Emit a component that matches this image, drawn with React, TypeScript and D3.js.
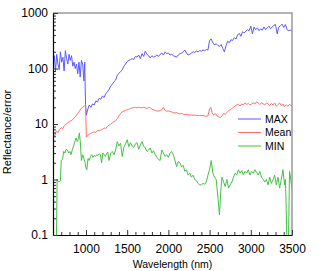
import { useRef, useEffect } from 'react';
import * as d3 from 'd3';

type Pt = [number, number];

// [wavelength nm, value]
const MAX: Pt[] = [
  [600, 110], [615, 170], [630, 90], [645, 180], [660, 120], [675, 95], [690, 200], [705, 130],
  [720, 160], [735, 90], [750, 210], [765, 150], [780, 120], [795, 180], [810, 140], [825, 170],
  [840, 110], [855, 130], [870, 100], [885, 120], [900, 80], [915, 130], [930, 70], [945, 140],
  [960, 120], [975, 60], [985, 130], [995, 22], [1005, 14.5], [1020, 18], [1040, 22], [1060, 20],
  [1080, 23], [1100, 22], [1120, 26], [1140, 25], [1160, 29], [1180, 28], [1200, 32], [1220, 30],
  [1240, 35], [1260, 38], [1280, 42], [1300, 48], [1320, 52], [1340, 58], [1360, 62], [1380, 75],
  [1400, 82], [1420, 88], [1440, 95], [1460, 110], [1480, 120], [1500, 133], [1520, 140], [1540, 145],
  [1560, 150], [1580, 145], [1600, 165], [1620, 160], [1640, 175], [1660, 150], [1680, 185], [1700, 165],
  [1720, 205], [1740, 180], [1760, 170], [1780, 155], [1800, 170], [1820, 160], [1840, 165], [1860, 175],
  [1880, 165], [1900, 180], [1920, 190], [1940, 175], [1960, 200], [1980, 185], [2000, 190], [2020, 175],
  [2040, 180], [2060, 170], [2080, 165], [2100, 160], [2120, 175], [2140, 185], [2160, 190], [2180, 200],
  [2200, 215], [2220, 190], [2240, 175], [2260, 180], [2280, 190], [2300, 200], [2320, 195], [2340, 205],
  [2360, 200], [2380, 210], [2400, 205], [2420, 215], [2440, 210], [2460, 220], [2480, 215], [2500, 320],
  [2520, 340], [2540, 290], [2560, 265], [2580, 280], [2600, 260], [2620, 250], [2640, 270], [2660, 230],
  [2680, 200], [2700, 260], [2720, 310], [2740, 290], [2760, 330], [2780, 320], [2800, 360], [2820, 340],
  [2840, 400], [2860, 430], [2880, 380], [2900, 460], [2920, 440], [2940, 470], [2960, 500], [2980, 480],
  [3000, 580], [3020, 420], [3040, 560], [3060, 500], [3080, 540], [3100, 480], [3120, 520], [3140, 490],
  [3160, 560], [3180, 500], [3200, 540], [3220, 580], [3240, 520], [3260, 560], [3280, 600], [3300, 620],
  [3320, 420], [3340, 560], [3360, 590], [3380, 630], [3400, 550], [3420, 620], [3440, 500], [3460, 480],
  [3480, 490], [3500, 470],
];

const MEAN: Pt[] = [
  [600, 6.5], [620, 6.0], [640, 7.5], [660, 7.0], [680, 8.0], [700, 8.5], [720, 8.3], [740, 9.5],
  [760, 10], [780, 10.5], [800, 11], [820, 11.5], [840, 12], [860, 13], [880, 14], [900, 15.5],
  [920, 17], [940, 19], [960, 20], [980, 21], [995, 22], [1005, 5.8], [1020, 6.2], [1040, 6.5],
  [1060, 6.8], [1080, 7.0], [1100, 7.2], [1120, 7.0], [1140, 7.6], [1160, 7.5], [1180, 7.8], [1200, 8.0],
  [1220, 8.5], [1240, 8.3], [1260, 9.0], [1280, 9.5], [1300, 10], [1320, 10.5], [1340, 11], [1360, 11.5],
  [1380, 12.5], [1400, 14], [1420, 15.5], [1440, 16.5], [1460, 17], [1480, 17.5], [1500, 18], [1520, 18.5],
  [1540, 19], [1560, 19.5], [1580, 19.8], [1600, 20], [1620, 19.5], [1640, 20], [1660, 19.8], [1680, 19.5],
  [1700, 20], [1720, 19.5], [1740, 19], [1760, 20], [1780, 19.5], [1800, 18.5], [1820, 18], [1840, 17.5],
  [1860, 17.2], [1880, 17], [1900, 17.5], [1920, 18], [1940, 20], [1960, 17.5], [1980, 17], [2000, 17.2],
  [2020, 16.8], [2040, 16.5], [2060, 16], [2080, 15.8], [2100, 16], [2120, 15.5], [2140, 15.2], [2160, 15.5],
  [2180, 15], [2200, 14.8], [2220, 15], [2240, 14.6], [2260, 14.5], [2280, 14.6], [2300, 14.3], [2320, 14.5],
  [2340, 14.2], [2360, 14.3], [2380, 14.1], [2400, 14.3], [2420, 14.2], [2440, 14.0], [2460, 13.8], [2480, 14],
  [2500, 19], [2515, 20], [2530, 16], [2550, 14.5], [2570, 15.5], [2590, 14], [2610, 13.5], [2630, 13],
  [2650, 14], [2670, 15.5], [2690, 15], [2710, 16], [2730, 17.5], [2750, 18], [2770, 19], [2790, 20],
  [2810, 21], [2830, 22], [2850, 22.5], [2870, 21], [2890, 23], [2910, 22], [2930, 24], [2950, 22.5],
  [2970, 23.5], [2990, 22], [3010, 23], [3030, 24], [3050, 23], [3070, 25], [3090, 24], [3110, 22.5],
  [3130, 24], [3150, 23], [3170, 22], [3190, 24], [3210, 23], [3230, 21.5], [3250, 23.5], [3270, 22],
  [3290, 24], [3310, 21], [3330, 22.5], [3350, 24], [3370, 21.5], [3390, 23], [3410, 20.5], [3430, 22],
  [3450, 21], [3470, 22.5], [3500, 21],
];

const MIN: Pt[] = [
  [620, 0.03], [640, 0.05], [650, 1.0], [660, 0.95], [675, 0.9], [690, 0.95], [700, 2.2], [715, 2.3],
  [730, 3.2], [745, 3.0], [760, 3.5], [775, 3.4], [790, 3.0], [805, 3.2], [820, 2.8], [835, 3.5],
  [850, 4.0], [865, 4.8], [880, 5.6], [895, 4.8], [910, 5.5], [920, 6.9], [930, 5.0], [945, 2.2],
  [960, 2.8], [975, 2.4], [990, 2.0], [1000, 1.6], [1010, 1.5], [1025, 2.4], [1040, 2.2], [1055, 2.6],
  [1070, 2.8], [1085, 2.5], [1100, 2.7], [1115, 2.6], [1130, 2.8], [1145, 2.7], [1160, 2.9], [1175, 2.8],
  [1190, 2.0], [1205, 3.0], [1220, 2.8], [1235, 2.6], [1250, 2.9], [1265, 3.1], [1280, 2.2], [1300, 3.0],
  [1320, 3.2], [1340, 2.8], [1360, 3.4], [1380, 4.8], [1400, 4.0], [1420, 4.5], [1440, 2.6], [1460, 3.8],
  [1480, 4.4], [1500, 5.2], [1520, 3.9], [1540, 4.6], [1560, 4.0], [1580, 3.8], [1600, 4.4], [1620, 4.6],
  [1640, 3.5], [1660, 4.2], [1680, 4.8], [1700, 4.0], [1720, 3.7], [1740, 3.2], [1760, 3.4], [1780, 3.7],
  [1800, 3.0], [1820, 3.3], [1840, 2.8], [1860, 2.5], [1880, 2.3], [1900, 2.2], [1920, 3.4], [1940, 3.0],
  [1960, 2.6], [1980, 2.8], [2000, 2.5], [2020, 3.0], [2040, 3.2], [2060, 2.8], [2080, 2.2], [2100, 1.7],
  [2120, 2.1], [2140, 2.0], [2160, 1.7], [2180, 1.8], [2200, 1.4], [2220, 1.5], [2240, 1.2], [2260, 1.3],
  [2280, 1.1], [2300, 1.2], [2320, 1.0], [2340, 0.95], [2360, 0.85], [2380, 0.8], [2400, 0.8], [2420, 0.85],
  [2440, 0.82], [2460, 0.9], [2480, 1.2], [2500, 1.5], [2520, 2.2], [2540, 1.3], [2560, 1.1], [2580, 1.0],
  [2600, 0.5], [2620, 0.23], [2635, 0.6], [2650, 1.1], [2670, 0.9], [2690, 0.75], [2710, 1.0], [2730, 0.7],
  [2750, 0.8], [2770, 0.9], [2790, 1.1], [2810, 1.3], [2830, 1.2], [2850, 1.5], [2870, 1.3], [2890, 1.45],
  [2910, 1.2], [2930, 1.4], [2950, 1.3], [2970, 1.5], [2990, 1.2], [3010, 1.4], [3030, 1.3], [3050, 1.5],
  [3070, 1.35], [3090, 1.2], [3110, 1.4], [3130, 1.1], [3150, 1.0], [3170, 0.9], [3190, 1.0], [3210, 0.8],
  [3230, 1.1], [3250, 0.85], [3270, 1.0], [3290, 1.2], [3310, 0.8], [3330, 1.1], [3350, 0.7], [3370, 1.0],
  [3390, 1.5], [3410, 0.8], [3420, 1.0], [3430, 0.3], [3440, 0.05], [3455, 0.05], [3470, 1.4], [3485, 1.0],
  [3500, 0.65],
];

const X_TICKS = [1000, 1500, 2000, 2500, 3000, 3500];
const Y_TICKS = [0.1, 1, 10, 100, 1000];

const SERIES = [
  { name: 'MAX', data: MAX, color: '#5a5aff' },
  { name: 'Mean', data: MEAN, color: '#ff6e6e' },
  { name: 'MIN', data: MIN, color: '#45c045' },
];

export default function App() {
  const svgRef = useRef<SVGSVGElement>(null);

  useEffect(() => {
    if (!svgRef.current) return;
    const width = 319;
    const height = 271;
    const margin = { top: 13, right: 27, bottom: 36, left: 53 };

    const svg = d3.select(svgRef.current);
    svg.selectAll('*').remove();

    const x = d3.scaleLinear().domain([600, 3500]).range([margin.left, width - margin.right]);
    const y = d3.scaleLog().domain([0.1, 1000]).range([height - margin.bottom, margin.top]);
    const font = 'Liberation Sans, Arial, sans-serif';

    svg.append('rect').attr('width', width).attr('height', height).attr('fill', 'white');

    svg.append('clipPath').attr('id', 'plot-clip')
      .append('rect')
      .attr('x', margin.left).attr('y', margin.top)
      .attr('width', width - margin.left - margin.right)
      .attr('height', height - margin.top - margin.bottom);

    const line = d3.line<Pt>().x(d => x(d[0])).y(d => y(d[1]));
    SERIES.forEach(s => {
      svg.append('path')
        .attr('clip-path', 'url(#plot-clip)')
        .attr('d', line(s.data))
        .attr('fill', 'none')
        .attr('stroke', s.color)
        .attr('stroke-width', 1);
    });

    // frame: top/right in grey
    const x0 = x(600), x1 = x(3500), y0 = y(0.1), y1 = y(1000);
    svg.append('path')
      .attr('d', `M${x0},${y1}H${x1}V${y0}`)
      .attr('fill', 'none').attr('stroke', '#999').attr('stroke-width', 1.5);

    // x axis, ticks pointing inward
    const minorX = d3.range(700, 3500, 100).filter(v => v % 500 !== 0);
    svg.append('g')
      .attr('transform', `translate(0,${y0})`)
      .call(d3.axisBottom(x).tickValues(minorX).tickSize(-3).tickFormat(() => ''))
      .call(g => g.select('.domain').remove())
      .call(g => g.selectAll('.tick line').attr('stroke', '#333'));
    svg.append('g')
      .attr('transform', `translate(0,${y0})`)
      .call(d3.axisBottom(x).tickValues(X_TICKS).tickSize(-5).tickPadding(9).tickSizeOuter(0)
        .tickFormat(d => String(d)))
      .call(g => g.select('.domain').attr('stroke', '#000').attr('stroke-width', 1.2))
      .call(g => g.selectAll('.tick line').attr('stroke', '#333'))
      .call(g => g.selectAll('.tick text').attr('fill', '#000').attr('font-size', '12px').attr('font-family', font));

    // y axis
    const minorY: number[] = [];
    [0.1, 1, 10, 100].forEach(d => { for (let k = 2; k < 10; k++) minorY.push(d * k); });
    svg.append('g')
      .attr('transform', `translate(${x0},0)`)
      .call(d3.axisLeft(y).tickValues(minorY).tickSize(-3).tickFormat(() => ''))
      .call(g => g.select('.domain').remove())
      .call(g => g.selectAll('.tick line').attr('stroke', '#333'));
    svg.append('g')
      .attr('transform', `translate(${x0},0)`)
      .call(d3.axisLeft(y).tickValues(Y_TICKS).tickSize(-5).tickPadding(5).tickSizeOuter(0)
        .tickFormat(d => String(d)))
      .call(g => g.select('.domain').attr('stroke', '#000').attr('stroke-width', 1.2))
      .call(g => g.selectAll('.tick line').attr('stroke', '#333'))
      .call(g => g.selectAll('.tick text').attr('fill', '#000').attr('font-size', '12px').attr('font-family', font));

    // axis titles
    svg.append('text')
      .attr('x', (x0 + x1) / 2).attr('y', 268)
      .attr('text-anchor', 'middle')
      .attr('font-size', '10.5px').attr('font-family', font)
      .text('Wavelength (nm)');
    svg.append('text')
      .attr('transform', `translate(11,${(y0 + y1) / 2 + 8}) rotate(-90)`)
      .attr('text-anchor', 'middle')
      .attr('font-size', '11px').attr('font-family', font)
      .text('Reflectance/error');

    // legend
    SERIES.forEach((s, i) => {
      const ly = 119 + i * 13.5;
      svg.append('line')
        .attr('x1', 238).attr('x2', 261).attr('y1', ly).attr('y2', ly)
        .attr('stroke', s.color).attr('stroke-width', 1);
      svg.append('text')
        .attr('x', 265).attr('y', ly).attr('dy', '0.35em')
        .attr('font-size', '10.5px').attr('font-family', font)
        .text(s.name);
    });
  }, []);

  return (
    <svg ref={svgRef} width={319} height={271}
      style={{ position: 'absolute', left: 0, top: 0 }} />
  );
}
